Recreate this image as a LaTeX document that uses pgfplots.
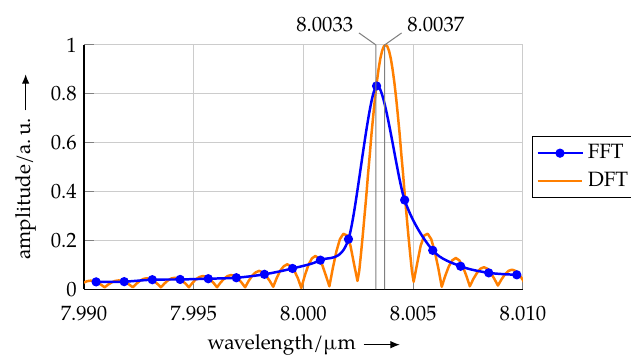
\documentclass[border=0pt]{standalone}
\usepackage{fontspec}
\setmainfont{TeX Gyre Pagella}
\usepackage{pgfplots}
\pgfplotsset{compat=1.18}
\usetikzlibrary{arrows.meta}
\definecolor{fftblue}{RGB}{0,0,255}
\definecolor{dftorange}{RGB}{255,127,0}
\begin{document}
\begin{tikzpicture}
\begin{axis}[
  scale only axis, width=212pt, height=118pt,
  xmin=7.99, xmax=8.01, ymin=0, ymax=1,
  axis x line*=bottom, axis y line*=left,
  axis line style={-, black, line width=0.6pt},
  xtick={7.990,7.995,8.000,8.005,8.010},
  ytick={0,0.2,0.4,0.6,0.8,1},
  scaled x ticks=false,
  xticklabel style={yshift=-4.5pt, /pgf/number format/.cd,fixed,fixed zerofill,precision=3},
  yticklabel style={/pgf/number format/.cd,fixed,precision=1},
  /pgf/number format/assume math mode=true,
  grid=major, major grid style={gray!40, line width=0.5pt},
  tick style={gray, line width=0.5pt}, major tick length=5pt,
  xlabel={wavelength/µm\hspace*{21pt}},
  ylabel={amplitude/a.\,u.\hspace*{21pt}},
  xlabel style={name=xlab},
  ylabel style={name=ylab},
  clip mode=individual,
  reverse legend,
  legend cell align=left,
  legend style={at={(1.02,0.5)}, anchor=west, draw=black, line width=0.5pt, inner xsep=2pt, inner ysep=2pt, row sep=1pt},
  legend image code/.code={\draw[mark repeat=2,mark phase=2] plot coordinates {(0cm,0cm) (0.38cm,0cm) (0.76cm,0cm)};},
]
\coordinate (SW) at (rel axis cs:0,0);
\coordinate (NE) at (rel axis cs:1,1);
\addplot[dftorange, line width=1.2pt, line join=round, sharp plot] coordinates {
(7.98966,0.008)(7.98982,0.018)(7.98998,0.027)(7.99014,0.033)(7.99030,0.035)(7.99046,0.033)(7.99062,0.027)(7.99078,0.018)(7.99094,0.008)
(7.99110,0.019)(7.99126,0.028)(7.99142,0.034)(7.99158,0.036)(7.99174,0.034)(7.99190,0.028)(7.99206,0.019)(7.99222,0.008)
(7.99238,0.022)(7.99254,0.034)(7.99270,0.042)(7.99286,0.045)(7.99302,0.042)(7.99318,0.034)(7.99334,0.022)(7.99350,0.008)
(7.99366,0.023)(7.99382,0.036)(7.99398,0.044)(7.99414,0.047)(7.99430,0.044)(7.99446,0.036)(7.99462,0.023)(7.99478,0.008)
(7.99494,0.026)(7.99510,0.041)(7.99526,0.050)(7.99542,0.054)(7.99558,0.050)(7.99574,0.041)(7.99590,0.026)(7.99606,0.008)
(7.99622,0.027)(7.99638,0.043)(7.99654,0.054)(7.99670,0.058)(7.99686,0.054)(7.99702,0.043)(7.99718,0.027)(7.99734,0.008)
(7.99750,0.034)(7.99766,0.055)(7.99782,0.069)(7.99798,0.075)(7.99814,0.069)(7.99830,0.055)(7.99846,0.034)(7.99862,0.010)
(7.99878,0.046)(7.99894,0.076)(7.99910,0.094)(7.99926,0.102)(7.99942,0.094)(7.99958,0.076)(7.99974,0.046)(7.99990,0.005)
(8.00006,0.056)(8.00022,0.098)(8.00038,0.126)(8.00054,0.136)(8.00070,0.126)(8.00086,0.098)(8.00102,0.056)(8.00118,0.012)
(8.00134,0.088)(8.00150,0.155)(8.00166,0.205)(8.00182,0.227)(8.00198,0.220)(8.00214,0.178)(8.00230,0.105)(8.00246,0.034)
(8.00254,0.075)(8.00262,0.145)(8.00270,0.220)(8.00278,0.300)(8.00286,0.380)(8.00294,0.470)(8.00302,0.550)(8.00310,0.637)
(8.00318,0.712)(8.00326,0.784)(8.00334,0.847)(8.00342,0.900)(8.00350,0.944)(8.00358,0.975)(8.00366,0.994)(8.00374,1.000)
(8.00382,0.994)(8.00390,0.975)(8.00398,0.944)(8.00406,0.900)(8.00414,0.847)(8.00422,0.784)(8.00430,0.712)(8.00438,0.637)
(8.00446,0.550)(8.00454,0.470)(8.00462,0.380)(8.00470,0.300)(8.00478,0.220)(8.00486,0.145)(8.00494,0.075)(8.00502,0.030)
(8.00518,0.105)(8.00534,0.178)(8.00550,0.220)(8.00566,0.227)(8.00582,0.205)(8.00598,0.155)(8.00614,0.088)(8.00630,0.010)
(8.00646,0.055)(8.00662,0.093)(8.00678,0.118)(8.00694,0.128)(8.00710,0.118)(8.00726,0.093)(8.00742,0.055)(8.00758,0.012)
(8.00774,0.042)(8.00790,0.066)(8.00806,0.084)(8.00822,0.090)(8.00838,0.084)(8.00854,0.066)(8.00870,0.042)(8.00886,0.015)
(8.00902,0.040)(8.00918,0.061)(8.00934,0.075)(8.00950,0.080)(8.00966,0.075)(8.00982,0.061)(8.00998,0.040)(8.01014,0.015)
};
\addlegendentry{DFT}
\addplot[fftblue, line width=1.2pt, smooth, mark=*, mark size=1.6pt, mark options={solid, fill=fftblue}] coordinates {
(7.99055,0.030)(7.99183,0.031)(7.99311,0.039)(7.99438,0.040)(7.99566,0.043)(7.99694,0.047)(7.99822,0.061)(7.99950,0.085)
(8.00077,0.119)(8.00205,0.205)(8.00333,0.832)(8.00461,0.365)(8.00589,0.159)(8.00716,0.094)(8.00844,0.067)(8.00972,0.059)
};
\addlegendentry{FFT}
\draw[gray, line width=0.5pt] (axis cs:8.0033,0) -- (axis cs:8.0033,1) -- ++(-8.2pt,5.8pt) node[anchor=south east, inner sep=0pt, xshift=-2.5pt, text=black] {8.0033};
\draw[gray, line width=0.5pt] (axis cs:8.0037,0) -- (axis cs:8.0037,1) -- ++(8.2pt,5.8pt) node[anchor=south west, inner sep=0pt, xshift=2.5pt, text=black] {8.0037};
\end{axis}
\draw[-{Latex[length=4.5pt,width=3.6pt]}, line width=0.5pt] ([xshift=-20.7pt, yshift=2.5pt]xlab.base east) -- ([xshift=-3.3pt, yshift=2.5pt]xlab.base east);
\draw[-{Latex[length=4.5pt,width=3.6pt]}, line width=0.5pt] ([xshift=-2.5pt, yshift=-20.7pt]ylab.base east) -- ([xshift=-2.5pt, yshift=-3.3pt]ylab.base east);
\pgfresetboundingbox
\path ([shift={(-40.6pt,-32.4pt)}]SW) rectangle ([shift={(52.2pt,21.7pt)}]NE);
\end{tikzpicture}
\end{document}
